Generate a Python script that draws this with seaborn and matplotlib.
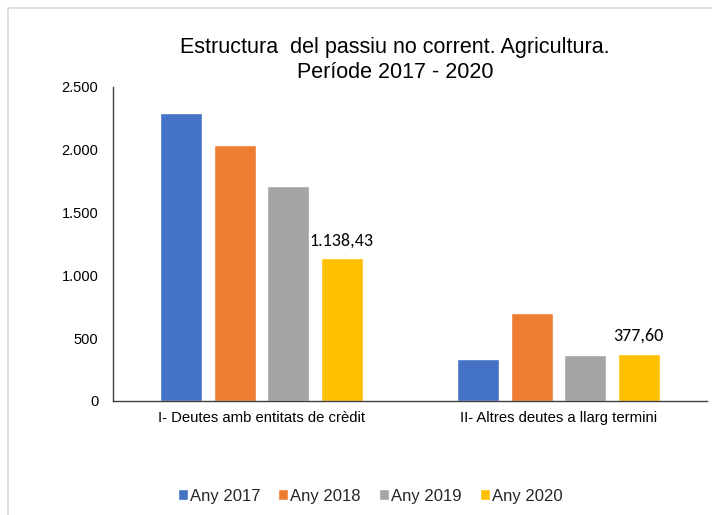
import matplotlib
matplotlib.use("Agg")
import matplotlib.pyplot as plt
from matplotlib.ticker import FuncFormatter, FixedLocator
from matplotlib.patches import Rectangle
import seaborn as sns
import pandas as pd

categories = ["I- Deutes amb entitats de crèdit", "II- Altres deutes a llarg termini"]
series = ["Any 2017", "Any 2018", "Any 2019", "Any 2020"]
values_2017 = [2293, 337]
values_2018 = [2035, 697]
values_2019 = [1710, 368]
values_2020 = [1138.43, 377.60]
label_2020 = ["1.138,43", "377,60"]
colors = ["#4472C4", "#ED7D31", "#A5A5A5", "#FFC000"]
y_ticks = [0, 500, 1000, 1500, 2000, 2500]
title_lines = ["Estructura  del passiu no corrent. Agricultura.", "Període 2017 - 2020"]

rows = []
for s, vals in zip(series, [values_2017, values_2018, values_2019, values_2020]):
    for c, v in zip(categories, vals):
        rows.append({"cat": c, "serie": s, "val": v})
df = pd.DataFrame(rows)

sns.set_theme(style="white")
plt.rcParams["font.family"] = ["Liberation Sans", "DejaVu Sans"]

fig = plt.figure(figsize=(7.12, 5.15), dpi=100)
ax = fig.add_axes([113 / 712, 1 - 401 / 515, (707 - 113) / 712, (401 - 87) / 515])

sns.barplot(data=df, x="cat", y="val", hue="serie", order=categories,
            hue_order=series, palette=colors, width=0.72, gap=0.22,
            saturation=1, ax=ax, legend=True, errorbar=None)

ax.set_ylim(0, 2500)
ax.set_xlim(-0.5, 1.5)
ax.yaxis.set_major_locator(FixedLocator(y_ticks))
ax.yaxis.set_major_formatter(FuncFormatter(lambda v, p: f"{int(v):,}".replace(",", ".")))
ax.set_xlabel("")
ax.set_ylabel("")
ax.tick_params(axis="y", length=0, pad=10.5, labelsize=10.5, colors="#000000")
ax.tick_params(axis="x", length=0, pad=7, labelsize=10.7, colors="#000000")
for side in ["top", "right"]:
    ax.spines[side].set_visible(False)
for side in ["left", "bottom"]:
    ax.spines[side].set_color("#404040")
    ax.spines[side].set_linewidth(1.0)

ax.bar_label(ax.containers[3], labels=label_2020, padding=7,
             fontsize=13, family=["Carlito", "Lato", "DejaVu Sans"], color="#000000")

handles, labels = ax.get_legend_handles_labels()
ax.legend_.remove()
fig.legend(handles, labels, loc="center", bbox_to_anchor=(370 / 712, 1 - 496 / 515),
           ncol=4, frameon=False, fontsize=12, handlelength=0.6, handleheight=0.6,
           handletextpad=0.12, columnspacing=1.08, borderpad=0)

fig.text(395 / 712, 1 - 53.5 / 515, title_lines[0], ha="center", va="baseline",
         fontsize=15.5, color="#000000")
fig.text(395 / 712, 1 - 78 / 515, title_lines[1], ha="center", va="baseline",
         fontsize=15.5, color="#000000")

fig.patches.append(Rectangle((8 / 712, -0.1), 1.2, 1 - 8 / 515 + 0.1, transform=fig.transFigure,
                             fill=False, edgecolor="#D9D9D9", linewidth=1.2, zorder=-1))

fig.savefig("out.png", dpi=100)
